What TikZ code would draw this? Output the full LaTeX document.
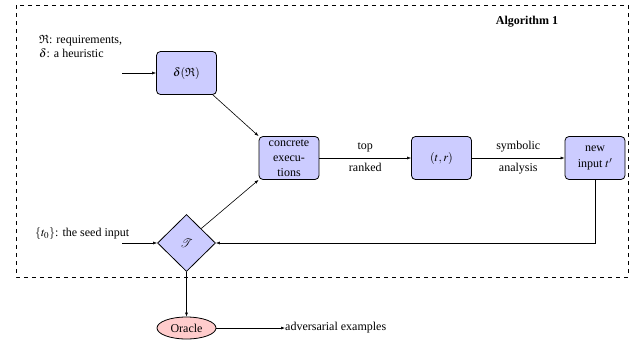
\documentclass[tikz,border=0pt]{standalone}
\usepackage{mathptmx}
\usepackage{amssymb}
\usepackage{fontspec}
\setmainfont{Liberation Serif}
\usetikzlibrary{shapes.geometric,arrows.meta}
\begin{document}
\begin{tikzpicture}[x=1pt,y=-1pt,
  font=\fontsize{12}{14}\selectfont,
  stage/.style={draw, thick, rounded corners=4pt, fill=blue!20, minimum width=60pt, minimum height=43pt, align=center, inner sep=1pt},
  choice/.style={draw, thick, diamond, fill=blue!20, minimum width=58pt, minimum height=57pt, inner sep=0pt},
  oracle/.style={draw, thick, ellipse, fill=red!20, minimum width=59pt, minimum height=22pt, inner sep=0pt},
  flow/.style={-{Latex[length=4pt,width=3pt]}, semithick},
  note/.style={align=left, anchor=west, inner sep=0pt}]
\useasboundingbox (0,0) rectangle (641,341);
% loop boundary
\draw[semithick, dash pattern=on 4pt off 4pt] (16,5) rectangle (628,277);
\node[font=\fontsize{12}{14}\selectfont\bfseries] (title) at (527,22) {Algorithm 1};
% stages
\node[stage] (heur) at (186.5,73) {$\delta(\mathfrak{R})$};
\node[stage] (conc) at (289,158) {concrete\\[1pt]execu-\\[1pt]tions};
\node[stage] (tr) at (441.5,158) {$(t,r)$};
\node[stage] (newin) at (595,158) {new\\[2pt]input $t'$};
\node[choice] (T) at (186.5,243) {$\mathcal{T}$};
\node[oracle] (orc) at (186.5,328) {Oracle};
% inputs
\node[note] (req) at (39,46) {$\mathfrak{R}$: requirements,\\$\delta$: a heuristic};
\node[note] (seed) at (35,234) {$\{t_0\}$: the seed input};
\node[note] (adv) at (285,328) {adversarial examples};
\coordinate (reqin) at (122,73);
\coordinate (seedin) at (122,243);
\coordinate (advend) at (adv.west);
% connectors
\draw[flow] (reqin) -- (heur);
\draw[flow] (seedin) -- (T);
\draw[flow] (heur.south east) ++(-4,0) -- (conc.north west);
\draw[flow] (T.north east) -- (conc.south west);
\draw[flow] (conc) -- node[above=2pt]{top} node[below=2pt]{ranked} (tr);
\draw[flow] (tr) -- node[above=2pt]{symbolic} node[below=2pt]{analysis} (newin);
\draw[flow] (newin.south) |- (T.east);
\draw[flow] (T.south) -- (orc.north);
\draw[flow] (orc.east) -- (advend);
\end{tikzpicture}
\end{document}
